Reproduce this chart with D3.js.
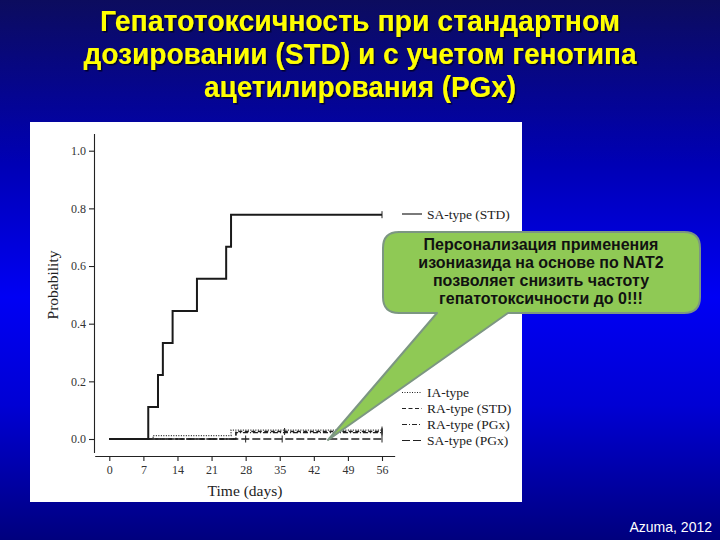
<!DOCTYPE html>
<html>
<head>
<meta charset="utf-8">
<script src="https://cdn.jsdelivr.net/npm/d3@7"></script>
<style>
  body { margin: 0; background: #000080; }
  svg { display: block; }
</style>
</head>
<body>
<svg id="chart" width="720" height="540"></svg>
<script>
// chart values
const titleLines = [
    "Гепатотоксичность при стандартном",
    "дозировании (STD) и с учетом генотипа",
    "ацетилирования (PGx)"
];
const calloutLines = [
    "Персонализация применения",
    "изониазида на основе по NAT2",
    "позволяет снизить частоту",
    "гепатотоксичности до 0!!!"
];
const xTicks = [0, 7, 14, 21, 28, 35, 42, 49, 56];
const yTicks = [0, 0.2, 0.4, 0.6, 0.8, 1.0];

// Kaplan-Meier style step curves (day, cumulative probability)
const saStdDays = [0, 8, 10, 11, 13, 18, 24, 25, 56];
const saStdProb = [0, 0.111, 0.222, 0.333, 0.444, 0.556, 0.667, 0.778, 0.778];
const iaDays = [0, 9, 25, 56];
const iaProb = [0, 0.012, 0.031, 0.031];
const raStdDays = [0, 26, 56];
const raStdProb = [0, 0.026, 0.026];
const raPgxDays = [0, 26, 56];
const raPgxProb = [0, 0.022, 0.022];
const saPgxDays = [0, 56];
const saPgxProb = [0, 0];

// censor marks (days)
const saStdCensor = [56];
const iaCensor = [56];
const raStdCensor = [36, 56];
const raPgxCensor = [56];
const saPgxCensor = [28, 35.5, 56];

const series = [
    { name: "SA-type (STD)", days: saStdDays, prob: saStdProb, censor: saStdCensor, dash: null, width: 2, color: "#1a1a1a" },
    { name: "IA-type", days: iaDays, prob: iaProb, censor: iaCensor, dash: "1,1.5", width: 1.3, color: "#222" },
    { name: "RA-type (STD)", days: raStdDays, prob: raStdProb, censor: raStdCensor, dash: "4,2.5", width: 1.3, color: "#222" },
    { name: "RA-type (PGx)", days: raPgxDays, prob: raPgxProb, censor: raPgxCensor, dash: "5,2,1,2", width: 1.3, color: "#222" },
    { name: "SA-type (PGx)", days: saPgxDays, prob: saPgxProb, censor: saPgxCensor, dash: "8,3", width: 1.4, color: "#222" }
];

const svg = d3.select("#chart");
const defs = svg.append("defs");

const grad = defs.append("linearGradient")
    .attr("id", "bg")
    .attr("x1", 0).attr("y1", 0).attr("x2", 0).attr("y2", 1);
grad.append("stop").attr("offset", "0%").attr("stop-color", "#0c0c5e");
grad.append("stop").attr("offset", "30%").attr("stop-color", "#0000b4");
grad.append("stop").attr("offset", "55%").attr("stop-color", "#0000f4");
grad.append("stop").attr("offset", "75%").attr("stop-color", "#0000d4");
grad.append("stop").attr("offset", "100%").attr("stop-color", "#00007e");

// soft dark shadow under the title
defs.append("filter")
    .attr("id", "shadow")
    .attr("x", "-5%").attr("y", "-20%").attr("width", "110%").attr("height", "140%")
    .append("feDropShadow")
    .attr("dx", 1.5).attr("dy", 1.5)
    .attr("stdDeviation", 0.6)
    .attr("flood-color", "#000022")
    .attr("flood-opacity", 0.9);

svg.append("rect")
    .attr("width", 720).attr("height", 540)
    .attr("fill", "url(#bg)");

// title
const title = svg.append("g")
    .attr("font-family", "'Liberation Sans Narrow', 'Arial Narrow', 'Liberation Sans', Arial, sans-serif")
    .attr("font-weight", "bold")
    .attr("font-size", 30)
    .attr("text-anchor", "middle")
    .attr("filter", "url(#shadow)");
const titleWidths = [520, 553, 312];
titleLines.forEach((t, i) => {
    title.append("text")
        .attr("x", 360).attr("y", 31 + i * 33)
        .attr("fill", "#ffff00")
        .attr("textLength", titleWidths[i])
        .attr("lengthAdjust", "spacingAndGlyphs")
        .text(t);
});

// white figure panel
svg.append("rect")
    .attr("x", 30).attr("y", 122)
    .attr("width", 492).attr("height", 380)
    .attr("fill", "#ffffff");

const x = d3.scaleLinear().domain([0, 56]).range([109.3, 382]);
const y = d3.scaleLinear().domain([0, 1]).range([439, 150.7]);

const serif = "'Liberation Serif', 'Times New Roman', serif";

// axes with a little overhang like the original plot
const yAxisScale = y.copy().domain([-0.047, 1.06]).range([y(-0.047), y(1.06)]);
const xAxisScale = x.copy().domain([-3, 58.6]).range([x(-3), x(58.6)]);

const yAxis = svg.append("g")
    .attr("transform", "translate(94,0)")
    .call(d3.axisLeft(yAxisScale).tickValues(yTicks).tickFormat(d3.format(".1f"))
        .tickSize(5).tickSizeOuter(0).tickPadding(3));

const xAxis = svg.append("g")
    .attr("transform", "translate(0,456)")
    .call(d3.axisBottom(xAxisScale).tickValues(xTicks).tickFormat(d3.format("d"))
        .tickSize(5).tickSizeOuter(0).tickPadding(4));

[yAxis, xAxis].forEach(a => {
    a.selectAll("path, line").attr("stroke", "#222").attr("stroke-width", 1.1);
    a.selectAll("text")
        .attr("font-family", serif)
        .attr("font-size", 12)
        .attr("fill", "#333");
});

svg.append("text")
    .attr("transform", "translate(58,285) rotate(-90)")
    .attr("text-anchor", "middle")
    .attr("font-family", serif)
    .attr("font-size", 15.5)
    .attr("fill", "#222")
    .text("Probability");

svg.append("text")
    .attr("x", 245).attr("y", 496)
    .attr("text-anchor", "middle")
    .attr("font-family", serif)
    .attr("font-size", 15.5)
    .attr("fill", "#222")
    .text("Time (days)");

// curves
const line = d3.line()
    .x(d => x(d[0]))
    .y(d => y(d[1]))
    .curve(d3.curveStepAfter);

const drawOrder = [4, 3, 2, 1, 0];
drawOrder.forEach(k => {
    const s = series[k];
    const pts = s.days.map((d, i) => [d, s.prob[i]]);
    svg.append("path")
        .datum(pts)
        .attr("fill", "none")
        .attr("stroke", s.color)
        .attr("stroke-width", s.width)
        .attr("stroke-dasharray", s.dash)
        .attr("d", line);

    // censor ticks
    const stepY = d3.scaleThreshold().domain(s.days.slice(1)).range(s.prob);
    svg.append("g").selectAll("line")
        .data(s.censor)
        .join("line")
        .attr("x1", d => x(d)).attr("x2", d => x(d))
        .attr("y1", d => y(stepY(d)) - 3.5)
        .attr("y2", d => y(stepY(d)) + 3.5)
        .attr("stroke", "#222")
        .attr("stroke-width", 1);
});

// legend
const legendRows = [
    { s: series[0], y: 214 },
    { s: series[1], y: 392.5 },
    { s: series[2], y: 408.5 },
    { s: series[3], y: 424.5 },
    { s: series[4], y: 440.5 }
];
const legend = svg.append("g");
legendRows.forEach(r => {
    legend.append("line")
        .attr("x1", 402).attr("x2", 422)
        .attr("y1", r.y).attr("y2", r.y)
        .attr("stroke", "#222")
        .attr("stroke-width", r.s === series[0] ? 1.2 : 1.1)
        .attr("stroke-dasharray", r.s.dash);
    legend.append("text")
        .attr("x", 427).attr("y", r.y + 4.5)
        .attr("font-family", serif)
        .attr("font-size", 13.5)
        .attr("fill", "#222")
        .text(r.s.name);
});

// callout bubble
const bx = 383, by = 232, bw = 317, bh = 81, br = 16;
const tailA = [437, by + bh], tailB = [508, by + bh], tip = [328, 440];
const bubble = d3.path();
bubble.moveTo(bx + br, by);
bubble.lineTo(bx + bw - br, by);
bubble.quadraticCurveTo(bx + bw, by, bx + bw, by + br);
bubble.lineTo(bx + bw, by + bh - br);
bubble.quadraticCurveTo(bx + bw, by + bh, bx + bw - br, by + bh);
bubble.lineTo(tailB[0], tailB[1]);
bubble.lineTo(tip[0], tip[1]);
bubble.lineTo(tailA[0], tailA[1]);
bubble.lineTo(bx + br, by + bh);
bubble.quadraticCurveTo(bx, by + bh, bx, by + bh - br);
bubble.lineTo(bx, by + br);
bubble.quadraticCurveTo(bx, by, bx + br, by);
bubble.closePath();

svg.append("path")
    .attr("d", bubble.toString())
    .attr("fill", "#8fc955")
    .attr("stroke", "#7c9682")
    .attr("stroke-width", 2)
    .attr("stroke-linejoin", "round");

const callout = svg.append("g")
    .attr("font-family", "'Liberation Sans', Arial, sans-serif")
    .attr("font-weight", "bold")
    .attr("font-size", 16)
    .attr("text-anchor", "middle")
    .attr("fill", "#111");
calloutLines.forEach((t, i) => {
    callout.append("text")
        .attr("x", 541).attr("y", 249.5 + i * 18)
        .text(t);
});

svg.append("text")
    .attr("x", 712).attr("y", 532)
    .attr("text-anchor", "end")
    .attr("font-family", "'Liberation Sans', Arial, sans-serif")
    .attr("font-size", 14)
    .attr("fill", "#ffffff")
    .text("Azuma, 2012");
</script>
</body>
</html>
